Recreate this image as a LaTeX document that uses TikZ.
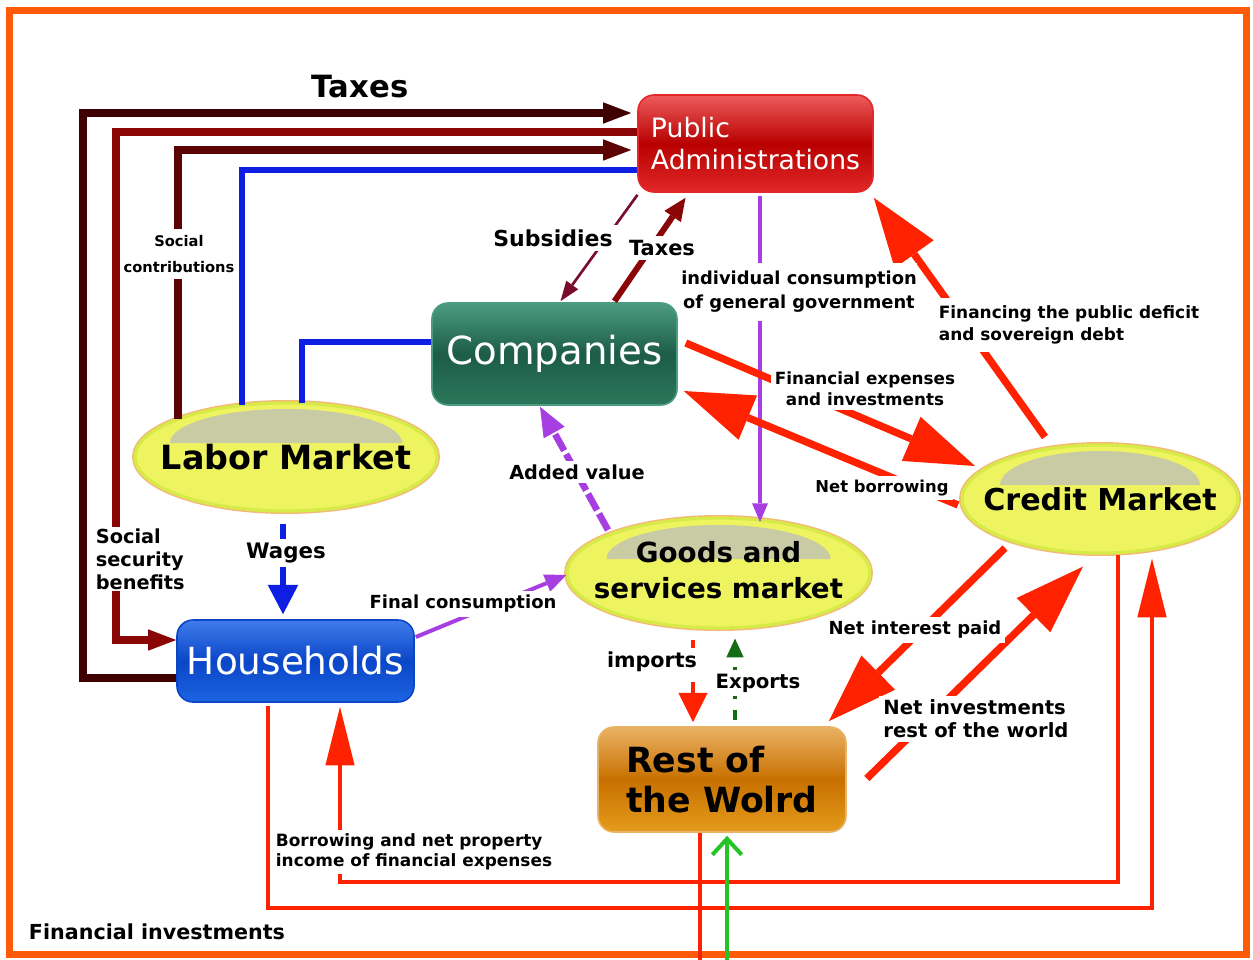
\documentclass[tikz,border=0pt]{standalone}
\usepackage{fontspec}
\setmainfont{DejaVu Sans}
\usetikzlibrary{arrows.meta,shapes.geometric}

\definecolor{frameorange}{RGB}{255,90,8}
\definecolor{taxdark}{RGB}{62,0,0}
\definecolor{benefitred}{RGB}{138,6,6}
\definecolor{contribred}{RGB}{92,4,4}
\definecolor{subsred}{RGB}{122,12,44}
\definecolor{wireblue}{RGB}{14,30,226}
\definecolor{flowviolet}{RGB}{166,62,226}
\definecolor{firered}{RGB}{255,34,0}
\definecolor{exportgreen}{RGB}{36,196,36}
\definecolor{mktfill}{RGB}{238,243,96}
\definecolor{mktedge}{RGB}{214,234,72}
\definecolor{mktglow}{RGB}{246,184,120}
\definecolor{mktgloss}{RGB}{200,203,164}
\definecolor{patop}{RGB}{238,92,92}
\definecolor{pamid}{RGB}{184,0,0}
\definecolor{pabot}{RGB}{226,40,40}
\definecolor{cotop}{RGB}{76,156,128}
\definecolor{comid}{RGB}{28,92,72}
\definecolor{cobot}{RGB}{44,120,92}
\definecolor{hhtop}{RGB}{64,124,234}
\definecolor{hhmid}{RGB}{10,70,200}
\definecolor{hhbot}{RGB}{28,100,226}
\definecolor{rwtop}{RGB}{234,178,100}
\definecolor{rwmid}{RGB}{200,112,0}
\definecolor{rwbot}{RGB}{228,156,28}

\tikzset{every picture/.style={line width=0.75pt}}

\begin{document}
\begin{tikzpicture}[x=0.75pt,y=0.75pt,yscale=-1,xscale=1,
  glossbox/.style={rounded corners=12pt, line width=1.2pt, inner sep=0pt, align=left},
  mkt/.style={ellipse, draw=mktedge, line width=2.4pt, fill=mktfill, preaction={draw=mktglow, line width=4.5pt}, inner sep=0pt, path picture={\fill[mktgloss] ([shift={(-#1,14)}]path picture bounding box.center) arc[start angle=180, end angle=0, x radius=#1, y radius=34] -- cycle;}},
  lbl/.style={fill=white, inner sep=3pt, align=center},
  taxwire/.style={line width=6pt, -{Triangle[length=21pt,width=16pt,line width=0pt]}},
  bluewire/.style={draw=wireblue, line width=4pt},
  bigred/.style={draw=firered, line width=5.5pt, -{Triangle[length=52pt,width=36pt,line width=0pt]}},
  thinred/.style={draw=firered, line width=3pt}
]
\useasboundingbox (0,0) rectangle (1253,960);

%Frame
\draw[frameorange, line width=5.25pt] (9.5,10) rectangle (1246.5,954);

%Rounded Rect [Public Administrations]
\node[glossbox, draw=pabot, top color=patop, bottom color=pabot, middle color=pamid, minimum width=176.25pt, minimum height=72.75pt, text=white, font=\fontsize{20}{24}\selectfont] (pa) at (755.5,143.5) {Public\\Administrations};
%Rounded Rect [Companies]
\node[glossbox, draw=cotop, top color=cotop, bottom color=cobot, middle color=comid, minimum width=183.75pt, minimum height=76.5pt, text=white, font=\fontsize{29}{34}\selectfont] (co) at (554.5,354) {Companies};
%Rounded Rect [Households]
\node[glossbox, draw=hhmid, top color=hhtop, bottom color=hhbot, middle color=hhmid, minimum width=177.75pt, minimum height=61.5pt, text=white, font=\fontsize{28}{33}\selectfont] (hh) at (295.5,661) {Households};
%Rounded Rect [Rest of the world]
\node[glossbox, draw=rwtop, top color=rwtop, bottom color=rwbot, middle color=rwmid, minimum width=186pt, minimum height=78.75pt, font=\fontsize{26}{30}\selectfont\bfseries] (rw) at (722,779.5) {Rest of\\the Wolrd};

%Ellipses [markets]
\node[mkt=116, minimum width=226.5pt, minimum height=81pt, font=\fontsize{25}{30}\selectfont\bfseries] (lm) at (286,457) {\makebox[0pt]{Labor Market}};
\node[mkt=100, minimum width=207pt, minimum height=81pt, font=\fontsize{22.6}{27}\selectfont\bfseries] (cm) at (1100,499) {\makebox[0pt]{Credit Market}};
\node[mkt=112, minimum width=227.25pt, minimum height=82.5pt, font=\fontsize{20.8}{27.5}\selectfont\bfseries] (gs) at (718.5,573) {\makebox[0pt]{\begin{tabular}{@{}c@{}}Goods and\\services market\end{tabular}}};

%Taxes lines
\draw[taxwire, draw=taxdark] ([shift={(0,17)}]hh.west) -| (83,113) -- ([shift={(-6,-30.5)}]pa.west);
\draw[taxwire, draw=benefitred] ([shift={(0,-11.5)}]pa.west) -| (116,640) -- ([shift={(0,-21)}]hh.west);
\draw[taxwire, draw=contribred] ([shift={(-108,-38)}]lm.center) |- ([shift={(-6,6.5)}]pa.west);
\draw[bluewire] ([shift={(-44,-52)}]lm.center) |- ([shift={(0,26.5)}]pa.west);
\draw[bluewire] ([shift={(16,-54)}]lm.center) |- ([shift={(0,-12)}]co.west);

%Public administrations and companies
\draw[draw=subsred, line width=2pt, -{Triangle[length=15pt,width=11pt,line width=0pt]}] ([shift={(-118,2)}]pa.south) -- ([shift={(6,-1)}]co.north);
\draw[draw=benefitred, line width=4.5pt, -{Triangle[length=17pt,width=15pt,line width=0pt]}] ([shift={(60,-1)}]co.north) -- ([shift={(-70,5)}]pa.south);
\draw[draw=flowviolet, line width=2.5pt, -{Triangle[length=14pt,width=12pt,line width=0pt]}] ([shift={(4.5,3)}]pa.south) -- ([shift={(41.5,-51)}]gs.center);

%Credit flows
\draw[bigred] ([shift={(8,-11)}]co.east) -- ([shift={(-125,-33)}]cm.center);
\draw[bigred] ([shift={(-142,6)}]cm.center) -- ([shift={(6,37)}]co.east);
\draw[bigred] ([shift={(-55,-62)}]cm.center) -- ([shift={(0,5)}]pa.south east);
\draw[bigred] ([shift={(-95,49)}]cm.center) -- ([shift={(-18,-5)}]rw.north east);
\draw[bigred] ([shift={(20,-1)}]rw.east) -- ([shift={(-17,12)}]cm.south);

%Goods and services
\draw[draw=flowviolet, line width=5pt, dash pattern=on 14pt off 3pt, -{Triangle[length=22pt,width=18pt,line width=0pt]}] ([shift={(-110.5,-43)}]gs.center) -- ([shift={(-14.5,1)}]co.south);
\draw[draw=flowviolet, line width=3pt, -{Triangle[length=16pt,width=14pt,line width=0pt]}] ([shift={(1,-24)}]hh.east) -- ([shift={(1,2)}]gs.west);
\draw[draw=wireblue, line width=5pt, -{Triangle[length=22pt,width=23pt,line width=0pt]}] ([shift={(-3,11)}]lm.south) -- ([shift={(-12.5,-5)}]hh.north);
\draw[draw=firered, line width=3pt, dash pattern=on 8pt off 8pt, -{Triangle[length=22pt,width=22pt,line width=0pt]}] ([shift={(-25.5,10)}]gs.south) -- ([shift={(-29,-4)}]rw.north);
\draw[draw=exportgreen!55!black, line width=3pt, dash pattern=on 8pt off 8pt, -{Triangle[length=14pt,width=13pt,line width=0pt]}] ([shift={(13,-6)}]rw.north) -- ([shift={(16.5,9)}]gs.south);

%Financial investments and borrowing
\draw[thinred, -{Triangle[length=44pt,width=22pt,line width=0pt]}] ([shift={(-27.5,3)}]hh.south) |- (1152,908) -- ([shift={(52,4)}]cm.south);
\draw[thinred, -{Triangle[length=44pt,width=22pt,line width=0pt]}] ([shift={(18,0)}]cm.south) |- (340,882) -- ([shift={(44.5,4)}]hh.south);

%Rest of the world outside links
\coordinate (rwout) at (700,962);
\coordinate (rwin) at (727,962);
\draw[draw=firered, line width=2.5pt] ([shift={(-22,0)}]rw.south) -- (rwout);
\draw[draw=exportgreen, line width=3pt, -{Straight Barb[length=12pt,width=22pt]}] (rwin) -- ([shift={(5,3)}]rw.south);

% Text Node
\node[font=\fontsize{23}{28}\selectfont\bfseries] (lTaxes) at (360,87) {Taxes};
\node[lbl, font=\fontsize{11}{19.5}\selectfont\bfseries, inner xsep=0pt, inner ysep=5pt] (lContrib) at (179,254) {Social\\contributions};
\node[lbl, align=left, font=\fontsize{14.5}{17.25}\selectfont\bfseries, anchor=west, inner sep=1pt] (lBenefit) at (94,559) {Social\\security\\benefits};
\node[lbl, font=\fontsize{16.5}{20}\selectfont\bfseries] (lSubs) at (553,238) {Subsidies};
\node[lbl, font=\fontsize{15.7}{20}\selectfont\bfseries] (lTaxCo) at (662,248) {Taxes};
\node[lbl, font=\fontsize{13.4}{18}\selectfont\bfseries, inner xsep=0pt, inner ysep=6pt] (lGov) at (799,292) {individual consumption\\of general government};
\node[lbl, align=left, font=\fontsize{12.7}{16}\selectfont\bfseries, inner sep=6pt] (lDeficit) at (1069,325) {Financing the public deficit\\and sovereign debt};
\node[lbl, font=\fontsize{12.6}{16}\selectfont\bfseries] (lExpenses) at (865,389) {Financial expenses\\and investments};
\node[lbl, font=\fontsize{12.3}{16}\selectfont\bfseries] (lBorrow) at (882,488) {Net borrowing};
\node[lbl, font=\fontsize{14.5}{18}\selectfont\bfseries] (lAdded) at (577,472) {Added value};
\node[lbl, font=\fontsize{16}{20}\selectfont\bfseries] (lWages) at (286,553) {Wages};
\node[lbl, font=\fontsize{13.5}{17}\selectfont\bfseries] (lFinal) at (463,604) {Final consumption};
\node[lbl, font=\fontsize{15.5}{19}\selectfont\bfseries] (lImports) at (652,662) {imports};
\node[lbl, font=\fontsize{14.8}{18}\selectfont\bfseries] (lExports) at (758,683) {Exports};
\node[lbl, font=\fontsize{13.5}{17}\selectfont\bfseries] (lInterest) at (915,630) {Net interest paid};
\node[lbl, align=left, font=\fontsize{14.7}{17.25}\selectfont\bfseries] (lNetInv) at (976,719) {Net investments\\rest of the world};
\node[lbl, align=left, font=\fontsize{12.7}{15}\selectfont\bfseries] (lProperty) at (414,852) {Borrowing and net property\\income of financial expenses};
\node[lbl, font=\fontsize{15.5}{19}\selectfont\bfseries] (lFinInv) at (157,932) {Financial investments};
\end{tikzpicture}
\end{document}
